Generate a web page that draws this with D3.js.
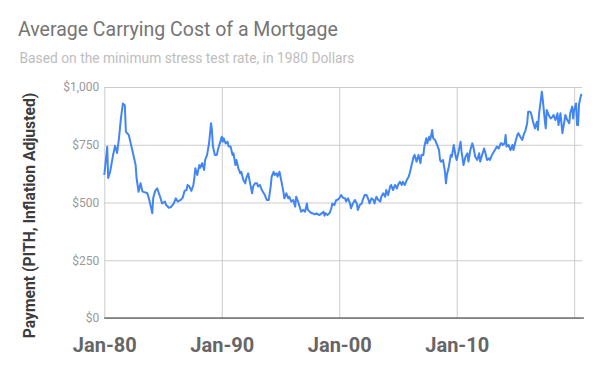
<!DOCTYPE html>
<html>
<head>
<meta charset="utf-8">
<script src="https://cdn.jsdelivr.net/npm/d3@7"></script>
<style>
  html, body { margin: 0; padding: 0; background: #fff; }
  svg { display: block; font-family: Roboto, "Noto Sans", Arial, sans-serif; }
</style>
</head>
<body>
<svg id="chart" width="600" height="371"></svg>
<script>
const title = "Average Carrying Cost of a Mortgage";
const subtitle = "Based on the minimum stress test rate, in 1980 Dollars";
const yAxisTitle = "Payment (PITH, Inflation Adjusted)";

const yTickValues = [0, 250, 500, 750, 1000];
const yTickLabels = ["$0", "$250", "$500", "$750", "$1,000"];
const xGridYears = ["1980-01", "1990-01", "2000-01", "2010-01", "2020-01"];
const xTickLabels = ["Jan-80", "Jan-90", "Jan-00", "Jan-10", ""];

const dates = [
"1980-01","1980-04","1980-05","1980-07","1980-10","1980-12","1981-02","1981-04","1981-06","1981-08",
"1981-10","1981-11","1982-02","1982-04","1982-06","1982-09","1982-10","1982-12","1983-02","1983-04",
"1983-06","1983-09","1983-11","1984-02","1984-03","1984-05","1984-07","1984-10","1984-12","1985-03",
"1985-04","1985-07","1985-09","1985-12","1986-02","1986-04","1986-07","1986-09","1986-11","1987-01",
"1987-02","1987-04","1987-06","1987-08","1987-09","1987-10","1987-12","1988-02","1988-03","1988-05",
"1988-07","1988-08","1988-10","1988-12","1989-02","1989-03","1989-04","1989-06","1989-08","1989-09",
"1989-11","1990-01","1990-02","1990-03","1990-05","1990-07","1990-08","1990-10","1990-12","1991-01",
"1991-03","1991-04","1991-06","1991-08","1991-09","1991-11","1992-01","1992-02","1992-04","1992-06",
"1992-08","1992-09","1992-11","1993-01","1993-02","1993-04","1993-06","1993-07","1993-09","1993-11",
"1994-01","1994-03","1994-04","1994-06","1994-07","1994-09","1994-10","1994-12","1995-02","1995-04",
"1995-05","1995-07","1995-09","1995-10","1995-12","1996-02","1996-04","1996-05","1996-07","1996-09",
"1996-10","1996-12","1997-02","1997-04","1997-05","1997-07","1997-09","1997-10","1997-12","1998-02",
"1998-03","1998-05","1998-07","1998-09","1998-10","1998-11","1999-01","1999-03","1999-05","1999-06",
"1999-08","1999-10","1999-11","2000-01","2000-03","2000-05","2000-07","2000-08","2000-10","2000-12",
"2001-01","2001-03","2001-05","2001-07","2001-08","2001-10","2001-12","2002-01","2002-03","2002-05",
"2002-07","2002-08","2002-10","2002-12","2003-01","2003-03","2003-05","2003-07","2003-08","2003-10",
"2003-12","2004-01","2004-03","2004-05","2004-06","2004-08","2004-10","2004-12","2005-01","2005-03",
"2005-05","2005-06","2005-08","2005-10","2005-12","2006-01","2006-03","2006-05","2006-06","2006-08",
"2006-10","2006-12","2007-01","2007-03","2007-04","2007-06","2007-07","2007-09","2007-10","2007-12",
"2008-01","2008-03","2008-05","2008-07","2008-08","2008-09","2008-11","2009-01","2009-02","2009-03",
"2009-05","2009-07","2009-08","2009-10","2009-12","2010-01","2010-03","2010-05","2010-06","2010-08",
"2010-10","2010-12","2011-01","2011-03","2011-05","2011-06","2011-08","2011-10","2011-12","2012-01",
"2012-03","2012-05","2012-06","2012-08","2012-10","2012-11","2013-01","2013-03","2013-05","2013-06",
"2013-08","2013-10","2013-11","2013-12","2014-02","2014-03","2014-04","2014-06","2014-08","2014-10",
"2014-11","2015-01","2015-03","2015-04","2015-06","2015-08","2015-10","2015-11","2016-01","2016-02",
"2016-04","2016-05","2016-07","2016-09","2016-11","2016-12","2017-01","2017-03","2017-04","2017-05",
"2017-07","2017-08","2017-09","2017-11","2018-01","2018-03","2018-04","2018-06","2018-08","2018-09",
"2018-11","2019-01","2019-03","2019-04","2019-06","2019-08","2019-09","2019-11","2019-12","2020-01",
"2020-03","2020-04","2020-05","2020-06","2020-08","2020-09"
];

const payments = [
619,741,606,633,706,746,714,778,864,929,
920,807,792,756,720,662,605,547,583,547,
545,540,511,453,520,550,561,525,496,504,
490,477,480,496,518,504,511,520,550,554,
576,569,550,576,605,648,619,662,650,670,
641,684,706,756,843,814,742,706,706,727,
756,785,763,778,756,763,742,742,706,713,
662,684,648,626,633,597,583,605,626,583,
540,569,583,583,569,576,554,547,532,511,
511,569,612,633,619,626,612,633,590,547,
518,540,518,525,504,511,482,525,504,475,
460,468,460,496,468,460,453,453,449,453,
449,446,453,460,443,453,446,453,475,496,
489,511,511,518,532,520,518,504,518,496,
475,496,511,496,468,489,496,511,532,532,
511,496,518,511,496,525,511,504,525,540,
525,554,532,569,576,554,576,561,576,590,
576,590,576,597,612,626,662,698,706,677,
706,670,706,706,742,778,756,785,771,814,
778,771,749,727,684,677,684,633,583,619,
655,706,698,749,698,684,720,763,720,662,
698,713,677,727,756,742,698,684,713,677,
706,734,720,684,691,684,706,720,734,742,
734,756,756,749,756,792,742,749,727,749,
727,763,792,800,785,771,800,807,843,893,
893,886,850,821,850,814,879,944,980,944,
857,821,900,879,864,871,879,857,886,835,
886,800,850,879,857,843,886,915,864,900,
929,835,835,925,965,968
];

const parse = d3.timeParse("%Y-%m");
const data = dates.map((d, i) => ({ date: parse(d), value: payments[i] }));

const svg = d3.select("#chart");
const plot = { left: 104.3, right: 582, top: 87, bottom: 318 };

const x = d3.scaleTime()
  .domain(d3.extent(data, d => d.date))
  .range([plot.left, plot.right]);
const y = d3.scaleLinear()
  .domain([0, 1000])
  .range([plot.bottom, plot.top]);

// Title & subtitle
svg.append("text").attr("x", 18).attr("y", 36)
  .attr("font-size", 19.5).attr("fill", "#757575").text(title);
svg.append("text").attr("x", 19.5).attr("y", 62.5)
  .attr("font-size", 13.8).attr("fill", "#bdbdbd").text(subtitle);

// Horizontal gridlines + y labels via axis
const yAxis = d3.axisLeft(y)
  .tickValues(yTickValues)
  .tickFormat((d, i) => yTickLabels[i])
  .tickSize(-(plot.right - plot.left))
  .tickPadding(5);
const gy = svg.append("g").attr("transform", `translate(${plot.left},0)`).call(yAxis);
gy.select(".domain").remove();
gy.selectAll(".tick line").attr("stroke", "#cccccc").attr("stroke-width", 1);
gy.selectAll(".tick text").attr("fill", "#999999").attr("font-size", 12)
  .attr("font-family", "Roboto, sans-serif");

// Vertical gridlines + x labels via axis
const xAxis = d3.axisBottom(x)
  .tickValues(xGridYears.map(parse))
  .tickFormat((d, i) => xTickLabels[i])
  .tickSize(-(plot.bottom - plot.top))
  .tickPadding(0);
const gx = svg.append("g").attr("transform", `translate(0,${plot.bottom})`).call(xAxis);
gx.select(".domain").remove();
gx.selectAll(".tick line").attr("stroke", "#cccccc").attr("stroke-width", 1);
gx.selectAll(".tick text").attr("fill", "#666666").attr("font-size", 20)
  .attr("font-weight", "bold").attr("font-family", "Roboto, sans-serif")
  .attr("dy", null).attr("y", 34);

// Baseline at $0
svg.append("line")
  .attr("x1", plot.left).attr("x2", plot.right + 2)
  .attr("y1", y(0)).attr("y2", y(0))
  .attr("stroke", "#333333").attr("stroke-width", 1.2);

// Line
const line = d3.line().x(d => x(d.date)).y(d => y(d.value));
svg.append("path").datum(data)
  .attr("fill", "none").attr("stroke", "#4285f4")
  .attr("stroke-width", 2).attr("stroke-linejoin", "round")
  .attr("d", line);

// Y axis title
svg.append("text")
  .attr("transform", "translate(34.5,215.5) rotate(-90)")
  .attr("text-anchor", "middle")
  .attr("font-size", 15.7).attr("font-weight", "bold").attr("fill", "#3c3c3c")
  .text(yAxisTitle);
</script>
</body>
</html>
